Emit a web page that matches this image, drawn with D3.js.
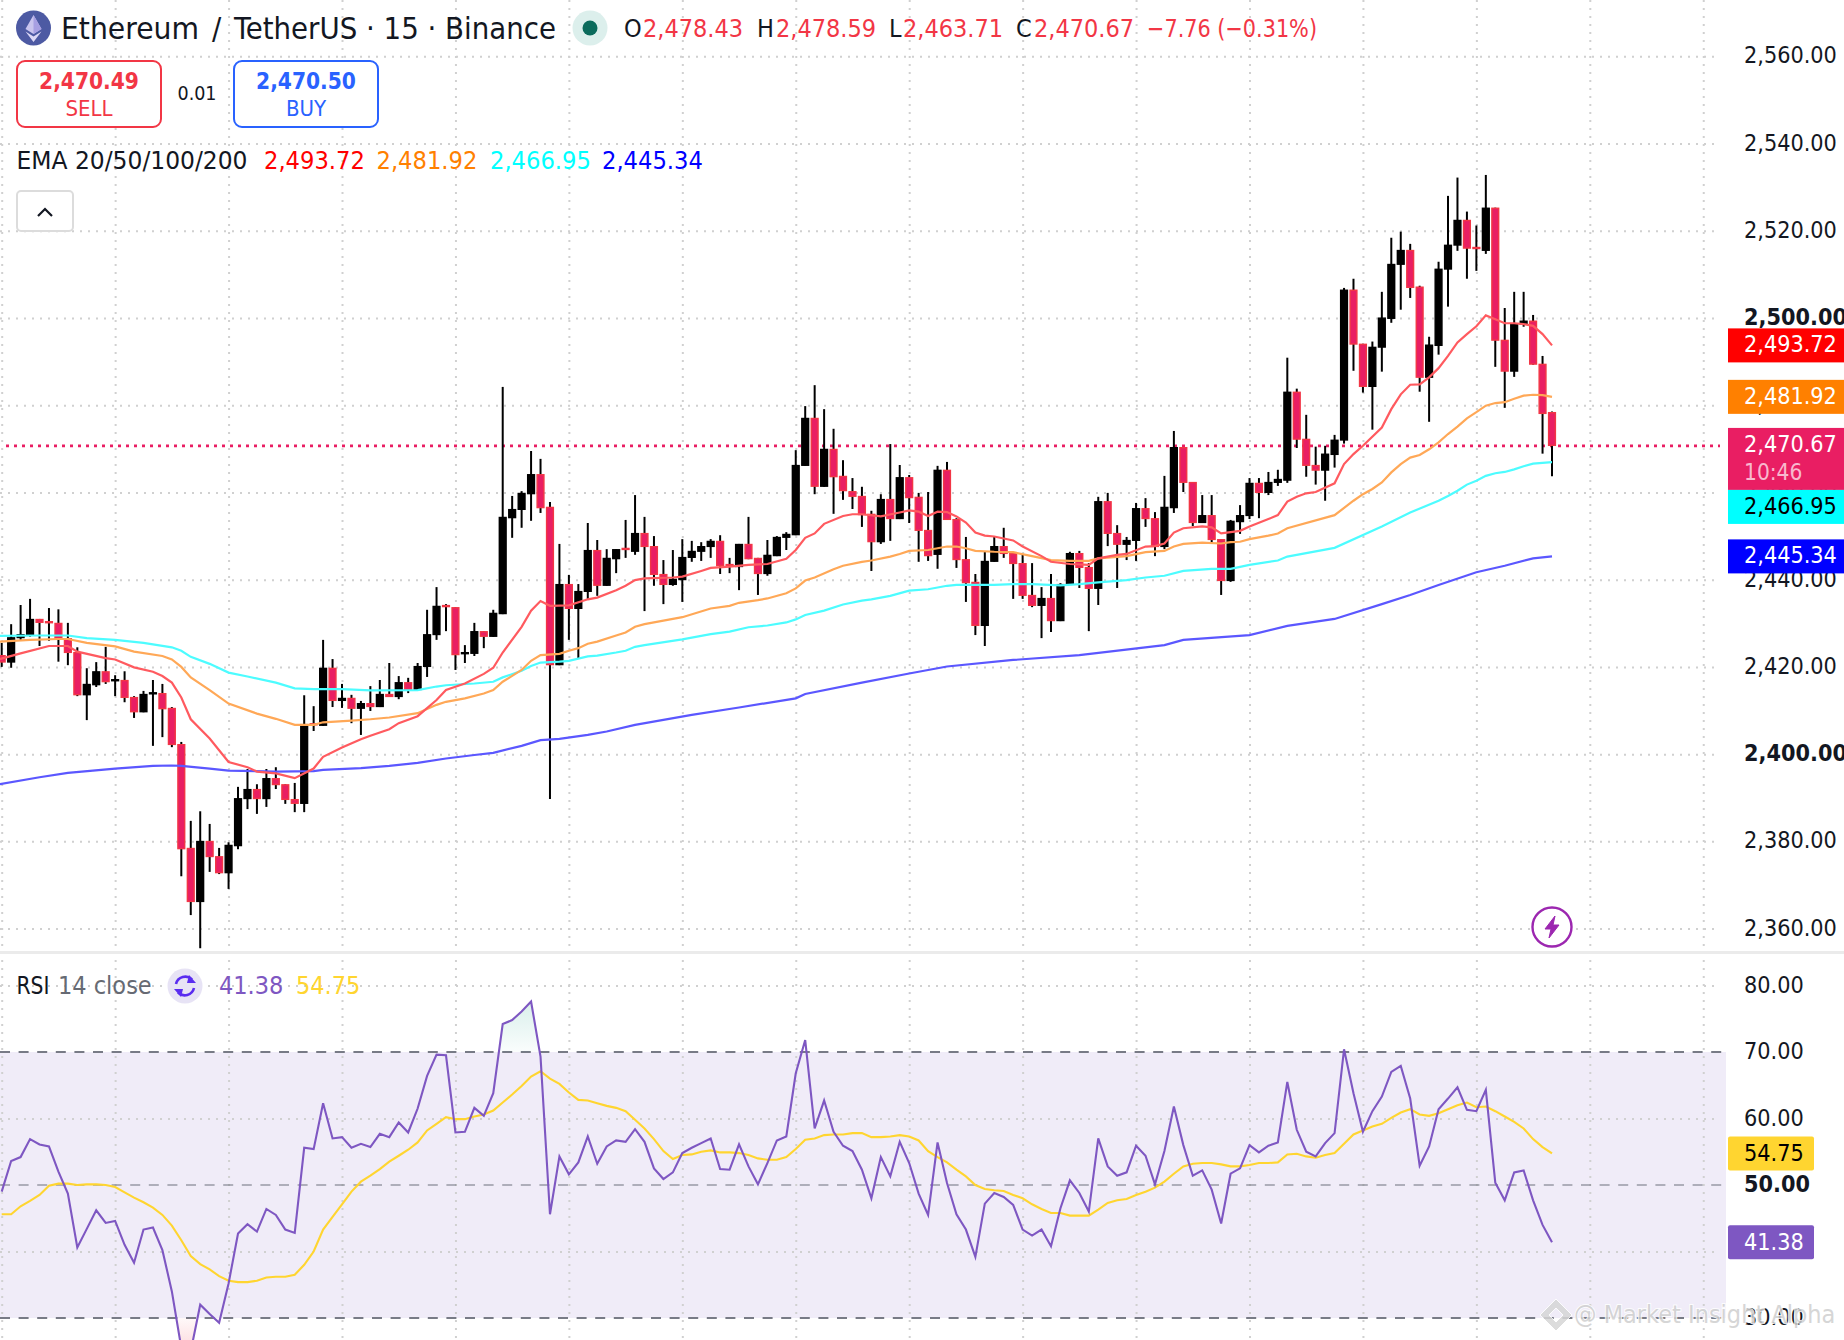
<!DOCTYPE html>
<html>
<head>
<meta charset="utf-8">
<script src="https://cdn.jsdelivr.net/npm/d3@7"></script>
<style>
  html, body { margin: 0; padding: 0; background: #fff; overflow: hidden; }
  svg { display: block; }
  text { font-family: "DejaVu Sans Condensed", "DejaVu Sans", sans-serif; font-stretch: condensed; }
</style>
</head>
<body>
<div id="chart"></div>
<script>
// values
const opens = [2422.7,2421.0,2426.6,2427.3,2431.0,2430.5,2430.1,2426.6,2423.4,2413.5,
  2415.8,2419.0,2416.8,2417.0,2413.1,2409.6,2413.8,2414.0,2410.6,2402.3,
  2378.5,2366.1,2380.1,2376.6,2372.7,2378.9,2389.7,2392.0,2389.7,2394.5,
  2393.1,2389.7,2388.6,2407.1,2406.5,2419.8,2412.2,2412.9,2410.4,2411.7,
  2410.8,2413.8,2413.1,2416.5,2414.7,2420.0,2427.3,2434.2,2433.7,2423.0,
  2423.0,2428.2,2426.9,2432.1,2454.1,2456.0,2459.6,2464.2,2456.7,2420.4,
  2439.0,2433.3,2437.2,2446.8,2438.6,2444.7,2447.3,2446.4,2450.7,2447.7,
  2441.3,2438.8,2439.9,2445.0,2446.4,2447.5,2448.9,2443.6,2442.9,2448.2,
  2445.0,2441.3,2445.4,2449.6,2450.2,2466.1,2477.1,2461.3,2470.0,2463.8,
  2460.3,2459.2,2455.1,2448.6,2458.5,2453.9,2463.5,2459.0,2451.4,2445.7,
  2465.2,2453.9,2444.7,2439.5,2429.4,2444.1,2447.7,2446.1,2443.8,2436.5,
  2434.0,2435.8,2430.5,2438.8,2446.1,2442.9,2437.9,2458.0,2450.7,2448.0,
  2448.9,2456.4,2454.1,2447.5,2456.4,2470.4,2462.4,2453.0,2454.8,2449.3,
  2439.7,2453.2,2454.6,2462.2,2459.9,2462.2,2462.7,2483.1,2472.3,2466.3,
  2465.0,2468.6,2471.9,2506.5,2494.1,2484.2,2493.2,2499.8,2512.2,2515.6,
  2507.2,2486.3,2493.6,2511.1,2516.6,2522.5,2516.3,2515.4,2525.3,2495.0,
  2487.7,2498.5,2499.4,2489.5,2478.43];
const highs = [2425.5,2429.8,2434.2,2435.6,2431.0,2433.5,2433.2,2430.1,2424.5,2419.7,
  2421.1,2424.6,2418.1,2419.0,2413.3,2414.5,2417.0,2416.1,2410.8,2402.8,
  2384.7,2386.9,2384.0,2378.5,2379.8,2392.5,2396.6,2393.1,2396.6,2397.0,
  2393.1,2393.4,2413.5,2411.0,2426.2,2421.8,2416.1,2413.6,2412.2,2415.6,
  2417.0,2420.9,2417.9,2417.5,2420.9,2433.1,2438.3,2434.4,2433.7,2425.0,
  2430.1,2428.2,2433.1,2484.2,2459.2,2460.3,2469.5,2467.7,2457.8,2448.2,
  2441.1,2439.0,2453.0,2449.1,2447.0,2447.0,2453.7,2459.4,2454.4,2450.0,
  2444.5,2446.8,2449.3,2448.9,2448.6,2449.3,2450.2,2445.0,2448.2,2454.4,
  2445.0,2449.1,2450.0,2450.9,2469.7,2479.8,2484.6,2479.1,2474.6,2467.4,
  2463.3,2461.3,2455.8,2459.6,2471.1,2466.3,2464.0,2459.9,2460.1,2466.1,
  2467.0,2454.1,2449.8,2441.3,2446.4,2450.0,2451.9,2446.1,2445.7,2443.8,
  2438.3,2441.3,2439.2,2446.4,2446.6,2443.8,2459.0,2459.9,2452.5,2449.8,
  2457.6,2458.7,2455.5,2463.8,2474.1,2470.4,2462.4,2459.4,2459.4,2449.3,
  2453.7,2457.1,2463.3,2463.3,2464.7,2465.2,2490.9,2483.8,2477.8,2470.5,
  2470.7,2473.2,2506.9,2509.0,2494.1,2494.6,2506.0,2518.4,2519.8,2517.0,
  2507.4,2495.7,2512.9,2528.0,2532.2,2524.4,2521.2,2532.8,2525.3,2502.3,
  2506.0,2506.0,2500.7,2491.3,2478.59];
const lows = [2420.0,2419.8,2426.2,2426.9,2424.8,2426.0,2421.2,2420.4,2413.3,2407.8,
  2415.4,2416.1,2413.3,2411.9,2408.3,2409.6,2401.9,2403.9,2401.6,2372.0,
  2363.1,2355.5,2373.0,2372.5,2369.1,2378.2,2387.4,2386.3,2387.9,2392.0,
  2388.6,2386.7,2386.7,2405.3,2406.5,2410.8,2410.6,2407.1,2404.4,2409.9,
  2410.8,2413.1,2412.6,2414.0,2414.7,2417.7,2426.2,2428.2,2419.3,2420.9,
  2422.5,2424.3,2426.9,2432.1,2449.6,2451.9,2453.5,2455.3,2389.7,2420.4,
  2426.2,2422.0,2435.6,2436.3,2438.6,2441.5,2445.0,2445.7,2432.8,2438.6,
  2434.4,2438.6,2434.9,2444.1,2444.3,2445.0,2441.3,2441.5,2437.6,2444.7,
  2436.5,2440.9,2445.4,2446.8,2450.2,2466.1,2459.6,2461.3,2455.1,2458.3,
  2456.2,2452.1,2442.0,2448.2,2448.9,2453.9,2453.0,2444.1,2444.3,2442.5,
  2453.7,2442.7,2434.9,2427.3,2424.8,2444.1,2445.0,2435.6,2435.6,2433.7,
  2426.6,2428.0,2430.5,2438.8,2438.1,2428.2,2434.2,2447.7,2438.1,2444.5,
  2444.3,2452.1,2445.4,2447.0,2455.3,2460.1,2452.3,2453.0,2448.2,2436.5,
  2439.5,2450.5,2453.9,2454.1,2459.4,2461.5,2462.2,2470.2,2463.6,2461.8,
  2458.1,2465.7,2471.2,2487.9,2482.9,2474.4,2487.7,2498.9,2501.9,2504.6,
  2483.1,2476.2,2491.6,2502.6,2515.4,2509.0,2510.8,2514.7,2488.8,2479.4,
  2486.5,2498.0,2489.3,2468.9,2463.71];
const closes = [2421.0,2426.8,2427.5,2431.0,2430.1,2430.1,2426.4,2423.2,2413.5,2416.1,
  2419.0,2416.5,2417.2,2412.9,2409.6,2413.8,2414.2,2410.3,2402.1,2378.2,
  2366.1,2380.1,2376.4,2372.7,2379.2,2389.9,2392.0,2389.7,2394.5,2392.9,
  2389.5,2388.6,2406.9,2406.7,2419.8,2412.2,2412.9,2410.4,2411.7,2410.8,
  2413.8,2413.1,2416.5,2414.7,2420.2,2427.5,2434.0,2433.7,2422.7,2423.4,
  2428.2,2426.9,2432.4,2454.4,2456.2,2459.9,2464.2,2456.4,2420.4,2439.0,
  2433.3,2437.4,2446.8,2438.6,2445.0,2447.0,2446.8,2450.7,2447.5,2441.1,
  2438.8,2440.2,2445.2,2446.6,2447.7,2448.9,2443.1,2443.1,2448.2,2444.7,
  2441.3,2445.7,2449.8,2450.5,2466.3,2477.1,2461.3,2470.0,2463.5,2460.3,
  2459.0,2454.8,2448.6,2458.5,2453.9,2463.5,2458.7,2451.2,2445.4,2465.2,
  2453.7,2444.5,2439.2,2429.4,2444.3,2447.7,2445.9,2443.6,2436.3,2434.0,
  2435.8,2430.5,2439.0,2446.1,2442.7,2437.9,2458.0,2450.5,2448.0,2449.1,
  2456.4,2453.9,2447.5,2456.7,2470.4,2462.2,2453.0,2454.8,2449.1,2439.7,
  2453.5,2454.8,2462.2,2459.9,2462.4,2463.1,2483.1,2472.1,2466.1,2465.0,
  2468.9,2472.1,2506.5,2493.9,2484.2,2493.4,2500.1,2512.4,2515.6,2506.9,
  2486.3,2493.9,2511.3,2516.8,2522.5,2515.9,2515.9,2525.3,2494.8,2487.7,
  2498.7,2499.4,2489.3,2478.0,2470.67];

// EMA vertices: [candle index, price]
const ema20 = [[-0.2,2421.8],[2,2423.1],[5,2424.8],[7,2424.8],[8,2423.5],[11,2422.0],[12,2421.7],[14,2419.9],[16,2418.9],[17,2417.9],[18,2416.4],[19,2413.0],[20,2408.0],[22,2403.6],[24,2398.2],[26,2397.0],[27,2396.0],[29,2395.6],[31,2394.5],[33,2396.7],
  [34,2399.4],[36,2401.5],[38,2403.4],[39,2404.2],[41,2405.7],[42,2407.1],[44,2408.7],[46,2412.4],[47,2414.7],[49,2416.2],[51,2418.4],[52,2419.8],[53,2423.3],[55,2429.2],[56,2432.9],[57,2435.1],[58,2434.0],[60,2434.1],[62,2435.5],[63,2435.9],[65,2437.6],[66,2438.6],[67,2439.9],
  [68,2440.3],[71,2440.5],[72,2440.7],[74,2442.0],[75,2442.7],[77,2443.0],[79,2443.4],[81,2443.6],[83,2444.8],[84,2446.8],[85,2449.6],[86,2450.6],[87,2452.8],[89,2454.6],[90,2455.0],[91,2455.0],[93,2454.5],[95,2455.4],[96,2455.9],[97,2455.6],[98,2454.6],[99,2455.6],[100,2455.5],[101,2454.5],
  [102,2453.1],[103,2450.8],[104,2450.1],[105,2449.9],[107,2449.0],[108,2447.6],[110,2445.4],[111,2444.1],[113,2443.6],[115,2443.4],[116,2444.9],[118,2445.7],[119,2445.9],[121,2447.6],[122,2447.7],[123,2448.3],[124,2450.8],[125,2451.8],[127,2452.2],[128,2452.0],[129,2450.6],[130,2450.9],[131,2451.2],[132,2452.2],[134,2453.9],[135,2454.8],
  [136,2457.9],[137,2459.0],[138,2459.8],[139,2460.1],[141,2462.1],[142,2466.5],[143,2468.8],[144,2470.7],[146,2474.9],[147,2479.1],[148,2482.5],[149,2484.7],[150,2484.8],[151,2486.4],[152,2488.5],[153,2491.3],[154,2494.4],[155,2496.3],[156,2498.1],[157,2500.6],[158,2499.7],[159,2498.8],[160,2498.8],[161,2498.6],[162,2498.2],[163,2496.3],[164,2493.72]];
const ema50 = [[-0.2,2425.8],[3,2426.2],[6,2426.4],[7,2426.4],[9,2425.5],[12,2424.7],[14,2423.5],[17,2422.5],[18,2421.7],[19,2420.0],[20,2417.6],[22,2414.7],[24,2411.6],[27,2409.3],[29,2408.1],[31,2406.7],[33,2406.7],
  [34,2407.3],[37,2407.7],[39,2408.0],[41,2408.4],[44,2409.4],[46,2411.3],[47,2412.0],[49,2412.8],[51,2413.9],[52,2414.7],[53,2416.6],[55,2419.3],[56,2421.4],[57,2422.7],[59,2423.0],[60,2423.7],[61,2424.3],[62,2425.3],[63,2425.8],[65,2427.2],[66,2427.9],[67,2429.2],
  [68,2429.8],[70,2430.6],[72,2431.4],[75,2433.4],[77,2434.0],[78,2434.7],[80,2435.3],[81,2435.7],[83,2436.9],[84,2438.0],[85,2439.8],[86,2440.5],[88,2442.4],[89,2443.2],[91,2444.1],[92,2444.4],[94,2445.3],[95,2445.9],[96,2446.6],[98,2446.8],[100,2447.6],[101,2447.6],
  [102,2447.2],[103,2446.6],[105,2446.4],[107,2446.3],[109,2445.4],[111,2444.5],[113,2444.3],[115,2444.3],[116,2444.9],[119,2445.4],[121,2446.3],[123,2446.6],[124,2447.6],[125,2448.2],[127,2448.5],[129,2448.3],[130,2448.6],[131,2448.7],[132,2449.3],[134,2450.1],[135,2450.6],
  [136,2451.8],[141,2454.8],[143,2458.1],[144,2459.6],[145,2460.8],[146,2462.3],[147,2464.6],[148,2466.5],[149,2468.0],[150,2468.6],[151,2469.9],[152,2471.5],[153,2473.4],[154,2475.1],[155,2477.0],[156,2478.4],[157,2479.9],[158,2480.5],[159,2480.7],[160,2481.5],[161,2482.2],[162,2482.4],[163,2482.3],[164,2481.92]];
const ema100 = [[-0.2,2427.1],[4,2427.2],[7,2427.2],[9,2426.6],[12,2426.2],[15,2425.5],[18,2424.5],[19,2423.7],[20,2422.3],[22,2420.7],[24,2418.7],[26,2417.8],[29,2416.4],[31,2415.1],[33,2414.9],
  [36,2414.9],[39,2414.6],[44,2414.7],[46,2415.5],[47,2415.8],[50,2416.2],[52,2416.6],[53,2417.6],[55,2419.1],[56,2420.2],[57,2421.0],[59,2421.2],[60,2421.4],[62,2422.4],[63,2422.6],[65,2423.3],[66,2423.7],[67,2424.6],
  [68,2425.0],[72,2426.3],[75,2427.5],[77,2428.1],[79,2429.1],[81,2429.5],[83,2430.2],[84,2430.9],[85,2431.9],[87,2432.9],[89,2434.3],[91,2435.2],[92,2435.5],[94,2436.3],[96,2437.5],[98,2437.8],[100,2438.6],[101,2438.8],
  [103,2438.8],[105,2438.8],[107,2439.0],[109,2439.0],[112,2438.7],[114,2439.0],[116,2439.4],[119,2439.9],[121,2440.5],[123,2440.9],[125,2442.0],[128,2442.5],[130,2442.5],[132,2443.4],[135,2444.4],
  [136,2445.3],[141,2447.3],[146,2452.2],[149,2455.4],[152,2458.1],[153,2459.2],[154,2460.4],[155,2461.8],[156,2462.7],[157,2463.8],[158,2464.4],[159,2464.7],[160,2465.3],[161,2466.0],[162,2466.6],[163,2466.8],[164,2466.95]];
const ema200 = [[-0.2,2393.1],[4,2394.7],[7,2395.7],[12,2396.7],[16,2397.3],[18,2397.4],[19,2397.3],[22,2396.7],[24,2396.2],[29,2396.0],[33,2396.1],
  [34,2396.4],[38,2396.8],[41,2397.3],[44,2398.0],[47,2399.0],[50,2399.8],[52,2400.3],[55,2401.9],[57,2403.2],[59,2403.5],[62,2404.4],[64,2405.2],[67,2406.7],
  [73,2409.0],[78,2410.7],[84,2412.8],[85,2413.8],[91,2416.4],[96,2418.5],[100,2420.1],[107,2421.6],[114,2422.7],[123,2425.0],[125,2426.2],[132,2427.3],[136,2429.4],[141,2431.0],[146,2434.4],[149,2436.5],[152,2438.8],[156,2441.7],[159,2443.2],[162,2444.9],[164,2445.34]];

const rsi = [49.0,53.6,54.2,56.9,56.1,55.8,52.0,48.7,40.6,43.4,
  46.2,44.3,44.6,41.0,38.3,43.3,43.6,40.2,34.0,25.5,
  25.0,32.0,30.6,29.3,35.2,42.7,44.1,43.0,46.4,45.5,
  43.3,42.8,55.6,55.4,62.3,57.0,57.2,55.6,56.2,55.7,
  57.7,57.2,59.4,57.9,61.5,66.4,69.6,69.5,57.9,58.0,
  61.6,60.4,63.8,74.2,74.8,76.1,77.6,69.3,45.6,54.3,
  51.6,53.4,57.3,53.2,55.8,56.7,56.5,58.4,56.5,52.5,
  50.9,51.9,54.8,55.6,56.3,57.0,52.4,52.3,56.1,52.8,
  50.1,53.3,56.7,57.3,66.8,71.8,58.5,62.7,58.0,55.9,
  55.1,52.3,48.0,54.2,51.3,56.5,53.3,48.7,45.5,56.4,
  50.3,45.6,43.3,39.2,47.2,48.8,48.2,47.0,43.3,42.4,
  43.3,40.8,46.5,50.7,48.8,46.0,57.0,52.8,51.4,51.9,
  55.9,54.4,50.1,55.1,61.8,56.0,51.4,52.2,49.3,44.2,
  51.7,52.5,56.0,54.9,55.9,56.4,65.5,58.3,55.0,54.3,
  56.3,57.8,70.4,63.8,58.0,61.1,63.3,67.0,67.9,63.0,
  52.9,55.8,61.4,63.0,64.7,61.3,61.1,64.3,50.35,47.7,
  51.9,52.2,47.7,44.0,41.38];
const rsiMa = [45.6,45.6,46.8,47.6,48.5,49.9,50.2,50.2,50.0,50.1,
  50.1,50.0,49.7,48.9,48.1,47.4,46.6,45.5,43.9,41.7,
  39.3,38.1,37.3,36.3,35.6,35.4,35.4,35.6,36.1,36.2,
  36.2,36.5,38.0,40.0,43.3,45.2,47.1,49.0,50.5,51.4,
  52.4,53.5,54.4,55.3,56.4,58.2,59.2,60.2,59.9,59.9,
  60.3,60.6,61.2,62.4,63.6,64.9,66.3,67.1,66.0,65.2,
  63.9,62.8,62.7,62.3,61.9,61.6,61.1,59.8,58.5,56.9,
  55.1,53.9,54.5,54.6,55.0,55.2,54.9,54.9,54.8,54.5,
  54.0,53.8,53.8,54.2,55.4,56.8,57.0,57.5,57.6,57.6,
  57.8,57.8,57.2,57.2,57.3,57.5,57.3,56.7,55.1,54.2,
  53.4,52.3,51.3,50.0,49.4,49.2,49.1,48.5,48.0,47.1,
  46.4,45.8,45.8,45.4,45.4,45.4,46.3,47.3,47.7,47.9,
  48.5,49.0,49.6,50.5,51.7,52.8,53.2,53.3,53.3,53.1,
  52.8,52.8,53.0,53.3,53.3,53.4,54.6,54.7,54.3,54.1,
  54.5,54.8,56.2,57.6,58.2,58.8,59.2,60.1,60.9,61.4,
  60.6,60.4,60.8,61.4,62.0,62.4,61.7,61.8,61.1,60.3,
  59.5,58.5,56.9,55.7,54.75];

const priceTicks = d3.range(2360, 2561, 20);
const rsiTicks = [80, 70, 60, 50, 40, 30];
const boldPriceTicks = [2500, 2400];
const lastClose = 2470.67;
const emaValues = [2493.72, 2481.92, 2466.95, 2445.34];
const emaColors = ["#ff0000", "#ff8000", "#00ffff", "#0000ff"];
const emaLineColors = ["#ff5a5f", "#ffa857", "#4dfcff", "#5b57ff"];
const ohlcLegend = [["O", "2,478.43"], ["H", "2,478.59"], ["L", "2,463.71"], ["C", "2,470.67"]];
const RED = "#f23645", PINK = "#e91e63", BLUE = "#2962ff", INK = "#131722", PURPLE = "#7e57c2", YELLOW = "#ffd530";

const width = 1844, height = 1340;
const gridEnd = 1720, axisX = 1744, fontAxis = 23.2;

const svg = d3.select("#chart").append("svg").attr("width", width).attr("height", height)
  .attr("viewBox", `0 0 ${width} ${height}`).style("background", "#fff");

const x = d3.scaleLinear().domain([0, 164]).range([1.7, 1552]);
const y = d3.scaleLinear().domain([2360, 2500]).range([928.6, 318]);
const yRsi = d3.scaleLinear().domain([70, 30]).range([1052, 1318]);

const defs = svg.append("defs");
const gradUp = defs.append("linearGradient").attr("id", "obFill")
  .attr("gradientUnits", "userSpaceOnUse").attr("x1", 0).attr("x2", 0).attr("y1", yRsi(78)).attr("y2", yRsi(70));
gradUp.append("stop").attr("offset", 0).attr("stop-color", "#089981").attr("stop-opacity", 0.16);
gradUp.append("stop").attr("offset", 1).attr("stop-color", "#089981").attr("stop-opacity", 0.02);
const gradDn = defs.append("linearGradient").attr("id", "osFill")
  .attr("gradientUnits", "userSpaceOnUse").attr("x1", 0).attr("x2", 0).attr("y1", yRsi(30)).attr("y2", yRsi(26));
gradDn.append("stop").attr("offset", 0).attr("stop-color", RED).attr("stop-opacity", 0.03);
gradDn.append("stop").attr("offset", 1).attr("stop-color", RED).attr("stop-opacity", 0.16);
defs.append("clipPath").attr("id", "aboveOb").append("rect").attr("x", 0).attr("width", gridEnd).attr("y", 960).attr("height", yRsi(70) - 960);
defs.append("clipPath").attr("id", "belowOs").append("rect").attr("x", 0).attr("width", gridEnd).attr("y", yRsi(30)).attr("height", 60);

// rsi band goes under the grid
svg.append("rect").attr("x", 0).attr("width", 1726).attr("y", yRsi(70)).attr("height", yRsi(30) - yRsi(70))
  .attr("fill", PURPLE).attr("fill-opacity", 0.115);

function dotted(g) {
  g.select(".domain").remove();
  g.selectAll("line").attr("stroke", "#d0d0d0").attr("stroke-width", 2).attr("stroke-dasharray", "2 6");
}

// vertical grid, one line every 12 candles
svg.append("g").call(d3.axisBottom(x).tickValues(d3.range(0, 181, 12)).tickSize(height).tickFormat(""))
  .call(dotted);
// horizontal grids
svg.append("g").call(d3.axisRight(y).tickValues(priceTicks).tickSize(gridEnd).tickFormat("")).call(dotted);
svg.append("g").call(d3.axisRight(yRsi).tickValues([80, 60, 40]).tickSize(gridEnd).tickFormat("")).call(dotted);

// rsi hlines
[[70, 1], [30, 1], [50, 0.55]].forEach(([v, op]) => {
  svg.append("line").attr("x1", 0).attr("x2", 1726).attr("y1", yRsi(v)).attr("y2", yRsi(v))
    .attr("stroke", "#787b86").attr("stroke-width", 2).attr("stroke-opacity", op)
    .attr("stroke-dasharray", "10 8.6");
});

// separator
svg.append("line").attr("x1", 0).attr("x2", width).attr("y1", 952.5).attr("y2", 952.5)
  .attr("stroke", "#ebebeb").attr("stroke-width", 3);

// last price line
svg.append("line").attr("x1", 6).attr("x2", gridEnd).attr("y1", y(lastClose)).attr("y2", y(lastClose))
  .attr("stroke", PINK).attr("stroke-width", 2.8).attr("stroke-dasharray", "3 5");

// candles
const candles = d3.range(closes.length).map(i => ({ i, o: opens[i], h: highs[i], l: lows[i], c: closes[i] }));
const candle = svg.append("g").selectAll("g").data(candles).join("g");
candle.append("line")
  .attr("x1", d => x(d.i)).attr("x2", d => x(d.i))
  .attr("y1", d => y(d.h)).attr("y2", d => y(d.l))
  .attr("stroke", "#000").attr("stroke-width", 2);
candle.append("rect")
  .attr("x", d => x(d.i) - 3.4).attr("width", 6.8)
  .attr("y", d => y(Math.max(d.o, d.c)) + 0.6)
  .attr("height", d => Math.max(1, Math.abs(y(d.o) - y(d.c)) - 1.2))
  .attr("fill", d => d.c >= d.o ? "#000" : PINK)
  .attr("stroke", d => d.c >= d.o ? "#000" : RED)
  .attr("stroke-width", 1.4);

// ema lines
const emaLine = d3.line().x(d => x(d[0])).y(d => y(d[1]));
[ema200, ema100, ema50, ema20].forEach((s, k) => {
  svg.append("path").attr("d", emaLine(s)).attr("fill", "none")
    .attr("stroke", emaLineColors[3 - k]).attr("stroke-width", 2.2);
});

// rsi fills + lines
const rsiPts = rsi.map((v, i) => [i, v]);
const areaUp = d3.area().x(d => x(d[0])).y0(yRsi(70)).y1(d => yRsi(d[1]));
const areaDn = d3.area().x(d => x(d[0])).y0(yRsi(30)).y1(d => yRsi(d[1]));
svg.append("path").attr("d", areaUp(rsiPts.slice(50, 60))).attr("fill", "url(#obFill)").attr("clip-path", "url(#aboveOb)");
svg.append("path").attr("d", areaDn(rsiPts.slice(15, 27))).attr("fill", "url(#osFill)").attr("clip-path", "url(#belowOs)");
const rsiLine = d3.line().x(d => x(d[0])).y(d => yRsi(d[1]));
svg.append("path").attr("d", rsiLine(rsiMa.map((v, i) => [i, v]))).attr("fill", "none").attr("stroke", YELLOW).attr("stroke-width", 2.1);
svg.append("path").attr("d", rsiLine(rsiPts)).attr("fill", "none").attr("stroke", PURPLE).attr("stroke-width", 2.1);

// price axes labels
function labels(g, bold) {
  g.select(".domain").remove();
  g.selectAll("line").remove();
  g.selectAll("text").attr("x", axisX).attr("dy", "0.28em").attr("font-size", fontAxis).attr("fill", INK)
    .attr("font-weight", d => bold.includes(d) ? 700 : 400);
}
svg.append("g")
  .call(d3.axisRight(y).tickValues(priceTicks).tickSize(0).tickFormat(d3.format(",.2f")))
  .call(labels, boldPriceTicks);
svg.append("g")
  .call(d3.axisRight(yRsi).tickValues(rsiTicks).tickSize(0).tickFormat(d3.format(".2f")))
  .call(labels, [50]);

function text(s, px, py, size, fill, opts = {}) {
  const t = svg.append("text").attr("x", px).attr("y", py).attr("font-size", size).attr("fill", fill).text(s);
  if (opts.anchor) t.attr("text-anchor", opts.anchor);
  if (opts.weight) t.attr("font-weight", opts.weight);
  if (opts.len) t.attr("textLength", opts.len).attr("lengthAdjust", "spacingAndGlyphs");
  return t;
}

// price tags
function tag(top, h, fill) {
  svg.append("rect").attr("x", 1728).attr("y", top).attr("width", width - 1728).attr("height", h).attr("fill", fill);
}
const f2 = d3.format(",.2f");
tag(y(emaValues[0]) - 17, 34, emaColors[0]);
text(f2(emaValues[0]), axisX, y(emaValues[0]) + 7, fontAxis, "#fff");
tag(y(emaValues[1]) - 17, 34, emaColors[1]);
text(f2(emaValues[1]), axisX, y(emaValues[1]) + 7, fontAxis, "#fff");
tag(y(lastClose) - 18, 62, PINK);
text(f2(lastClose), axisX, y(lastClose) + 6, fontAxis, "#fff");
text("10:46", axisX, y(lastClose) + 34, 22.5, "#fff").attr("fill-opacity", 0.7);
tag(y(lastClose) + 44, 34, emaColors[2]);
text(f2(emaValues[2]), axisX, y(lastClose) + 68, fontAxis, "#000");
tag(y(emaValues[3]) - 17, 34, emaColors[3]);
text(f2(emaValues[3]), axisX, y(emaValues[3]) + 7, fontAxis, "#fff");

function rsiTag(v, fill, color) {
  svg.append("rect").attr("x", 1728).attr("y", yRsi(v) - 17).attr("width", 86).attr("height", 34).attr("rx", 2).attr("fill", fill);
  text(d3.format(".2f")(v), axisX, yRsi(v) + 8, fontAxis, color);
}
rsiTag(54.75, YELLOW, "#000");
rsiTag(41.38, PURPLE, "#fff");

// header
const eth = svg.append("g").attr("transform", "translate(33.5,28)");
eth.append("circle").attr("r", 17.5).attr("fill", "#4d5aa3");
eth.append("path").attr("d", "M0,-13 L8,1 L0,6 L-8,1 Z").attr("fill", "#c9c4ee");
eth.append("path").attr("d", "M0,8.5 L8,3.5 L0,14 L-8,3.5 Z").attr("fill", "#dcd8f6");
eth.append("path").attr("d", "M0,-13 L0,6 L8,1 Z").attr("fill", "#a79fe2");

text("Ethereum", 61, 39, 30.5, INK, { len: 138 });
text("/", 212, 39, 30.5, INK);
text("TetherUS · 15 · Binance", 234, 39, 30.5, INK, { len: 322 });

svg.append("circle").attr("cx", 590).attr("cy", 28).attr("r", 17.5).attr("fill", "#dcefec");
svg.append("circle").attr("cx", 590).attr("cy", 28).attr("r", 7.5).attr("fill", "#0b6b5c");

const ohlcX = [624, 757, 889, 1016], ohlcValX = [643, 776, 903, 1034];
ohlcLegend.forEach(([k, v], i) => {
  text(k, ohlcX[i], 37, 25, INK);
  text(v, ohlcValX[i], 37, 25, RED);
});
text("−7.76 (−0.31%)", 1147, 37, 25, RED, { len: 170 });

function tradeBox(x0, x1, color, price, side) {
  svg.append("rect").attr("x", x0).attr("y", 61).attr("width", x1 - x0).attr("height", 66).attr("rx", 8)
    .attr("fill", "#fff").attr("stroke", color).attr("stroke-width", 2);
  text(price, (x0 + x1) / 2, 89, 22.5, color, { anchor: "middle", weight: 700 });
  text(side, (x0 + x1) / 2, 116, 22, color, { anchor: "middle" });
}
tradeBox(17, 161, RED, "2,470.49", "SELL");
tradeBox(234, 378, BLUE, "2,470.50", "BUY");
text("0.01", 197, 100, 19.5, INK, { anchor: "middle" });

text("EMA 20/50/100/200", 16.5, 169, 25, INK, { len: 231 });
const emaLegendX = [264, 376.5, 490, 602];
emaValues.forEach((v, i) => text(f2(v), emaLegendX[i], 169, 25.2, emaColors[i]));

svg.append("rect").attr("x", 17).attr("y", 191).attr("width", 56).attr("height", 40).attr("rx", 4)
  .attr("fill", "#fff").attr("stroke", "#dcdcdc").attr("stroke-width", 2);
svg.append("path").attr("d", "M38,216 L45,209 L52,216").attr("fill", "none").attr("stroke", INK).attr("stroke-width", 2.2);

// rsi legend
text("RSI", 16.5, 994, 25, INK, { len: 33 });
text("14 close", 58, 994, 25, "#666a73");
const ri = svg.append("g").attr("transform", "translate(185,986)");
ri.append("circle").attr("r", 17.5).attr("fill", "#e7e3f5");
ri.append("path").attr("d", "M-9,-2 A9.5,9.5 0 0 1 7,-6.5 M9,2 A9.5,9.5 0 0 1 -7,6.5").attr("fill", "none").attr("stroke", "#5a2cf0").attr("stroke-width", 2.6);
ri.append("path").attr("d", "M4,-11 L11,-3 L2,-3 Z M-4,11 L-11,3 L-2,3 Z").attr("fill", "#5a2cf0");
text("41.38", 219, 994, 25, PURPLE);
text("54.75", 296, 994, 25, YELLOW);

// lightning badge
const bolt = svg.append("g").attr("transform", "translate(1552,927)");
bolt.append("circle").attr("r", 19.5).attr("fill", "#fff").attr("stroke", "#9c27b0").attr("stroke-width", 2.4);
bolt.append("path").attr("d", "M3,-11 L-7,2 L-1,2 L-3,11 L7,-2 L1,-2 Z").attr("fill", "#9c27b0").attr("stroke", "#9c27b0").attr("stroke-width", 1).attr("stroke-linejoin", "round");

// watermark
const wm = svg.append("g").attr("opacity", 0.85);
wm.append("path").attr("d", "M1556,1299 L1572,1315 L1556,1331 L1540,1315 Z M1556,1308 L1563,1315 L1556,1322 L1549,1315 Z")
  .attr("fill", "#d6d6d6").attr("stroke", "#fff").attr("stroke-width", 1).attr("fill-rule", "evenodd");
wm.append("text").attr("x", 1574).attr("y", 1323).attr("font-size", 25).attr("fill", "#cfcfcf")
  .attr("stroke", "#fff").attr("stroke-width", 2).attr("paint-order", "stroke").text("@ Market Insight Alpha");
</script>
</body>
</html>
